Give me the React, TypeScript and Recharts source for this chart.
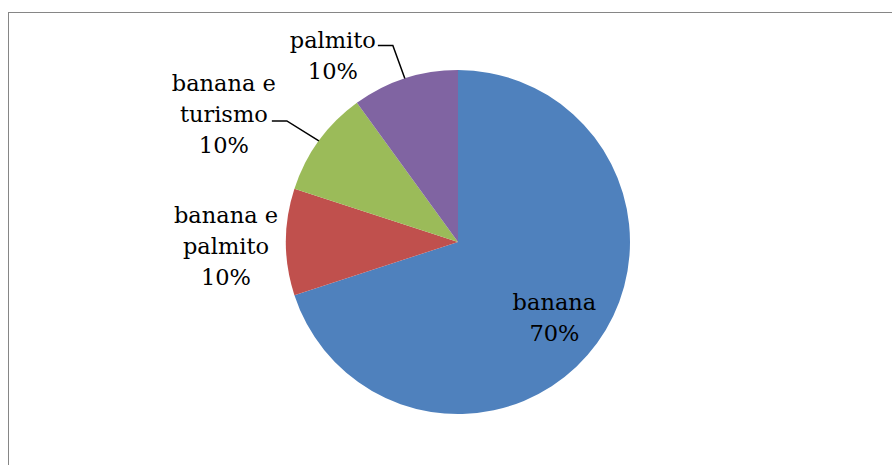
import { PieChart, Pie, Cell } from 'recharts';

// Activity shares
const CATEGORIES = ['banana', 'banana e palmito', 'banana e turismo', 'palmito'];
const SHARES = [70, 10, 10, 10];
// How each label is broken into lines (the last line is the percentage)
const LABEL_LINES = [['banana'], ['banana e', 'palmito'], ['banana e', 'turismo'], ['palmito']];

const COLORS = ['#4F81BD', '#C0504D', '#9BBB59', '#8064A2'];

// Label placement, relative to the point on the slice edge at its mid angle
// (banana sits inside the slice, the others outside)
const LABEL_LAYOUT = [
  { inside: true, dx: -1, dy: -3, line: null },
  { inside: false, dx: -60, dy: -19, line: null },
  { inside: false, dx: -95, dy: -50, line: { ex: -32, ey: -20, tx: -47 } },
  { inside: false, dx: -72, dy: -30, line: { ex: -12, ey: -33, tx: -27 } },
];

const data = CATEGORIES.map((name, i) => ({ name, value: SHARES[i] }));

const RAD = Math.PI / 180;
const LINE_H = 31;

const renderLabel = (props: any) => {
  const { cx, cy, midAngle, outerRadius, index, value } = props;
  const layout = LABEL_LAYOUT[index];
  const r = layout.inside ? outerRadius * 0.7 : outerRadius;
  const px = cx + r * Math.cos(-midAngle * RAD);
  const py = cy + r * Math.sin(-midAngle * RAD);
  const x = px + layout.dx;
  const y = py + layout.dy;
  const lines = [...LABEL_LINES[index], `${value}%`];
  const ll = layout.line;
  return (
    <g>
      {ll && (
        <polyline
          points={`${px},${py} ${px + ll.ex},${py + ll.ey} ${px + ll.tx},${py + ll.ey}`}
          fill="none"
          stroke="#000"
          strokeWidth={1.5}
        />
      )}
      <text x={x} y={y} textAnchor="middle" fill="#000" fontSize={22.5} fontFamily="'DejaVu Serif', serif">
        {lines.map((t, i) => (
          <tspan key={i} x={x} y={y + i * LINE_H}>
            {t}
          </tspan>
        ))}
      </text>
    </g>
  );
};

export default function App() {
  return (
    <div style={{ position: 'absolute', left: 0, top: 0, width: 892, height: 465, overflow: 'hidden', background: '#fff' }}>
      <div
        style={{
          position: 'absolute',
          left: 8,
          top: 12,
          width: 1000,
          height: 600,
          border: '1px solid #868686',
          boxSizing: 'border-box',
        }}
      />
      <div style={{ position: 'absolute', left: 0, top: 0 }}>
        <PieChart width={892} height={465} margin={{ top: 0, right: 0, bottom: 0, left: 0 }}>
          <Pie
            data={data}
            dataKey="value"
            nameKey="name"
            cx={458}
            cy={242}
            outerRadius={172}
            startAngle={90}
            endAngle={-270}
            stroke="none"
            label={renderLabel}
            labelLine={false}
            isAnimationActive={false}
          >
            {data.map((d, i) => (
              <Cell key={d.name} fill={COLORS[i]} />
            ))}
          </Pie>
        </PieChart>
      </div>
    </div>
  );
}
